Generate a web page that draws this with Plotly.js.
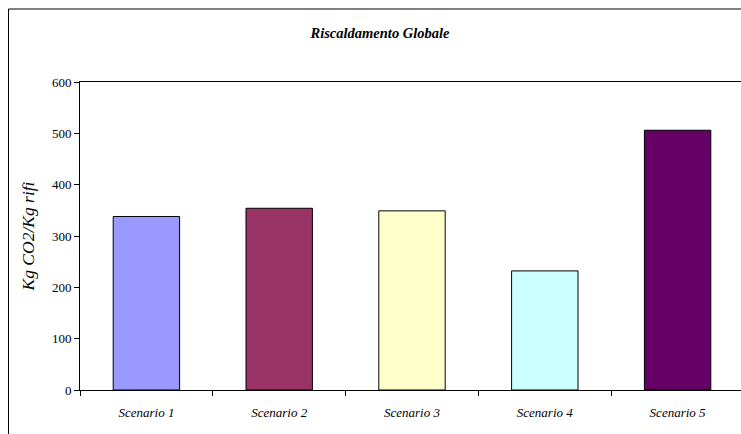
<!DOCTYPE html>
<html>
<head>
<meta charset="utf-8">
<script src="https://cdn.plot.ly/plotly-3.0.1.min.js"></script>
<style>
  html, body { margin: 0; padding: 0; background: #fff; overflow: hidden; }
  #chart { width: 760px; height: 450px; }
</style>
</head>
<body>
<div id="chart"></div>
<script>
// Global warming potential per scenario (kg CO2 per kg of waste)
const scenari = ["Scenario 1", "Scenario 2", "Scenario 3", "Scenario 4", "Scenario 5"];
const valori = [338, 354, 349, 232, 506];
const colori = ["#9999FF", "#993366", "#FFFFCC", "#CCFFFF", "#660066"];
const yTicks = [0, 100, 200, 300, 400, 500, 600];

const serif = "Liberation Serif";

const trace = {
  type: "bar",
  x: scenari,
  y: valori,
  marker: { color: colori, line: { color: "#000", width: 1 } },
  hoverinfo: "x+y"
};

const layout = {
  width: 760,
  height: 450,
  margin: { l: 80, r: 16, t: 82, b: 60 },
  paper_bgcolor: "#fff",
  plot_bgcolor: "#fff",
  showlegend: false,
  bargap: 0.5,
  font: { family: serif, color: "#000", size: 12 },
  title: {
    text: "<b><i>Riscaldamento Globale</i></b>",
    font: { family: serif, size: 14.5, color: "#000" },
    x: 0.5, xref: "container", xanchor: "center",
    y: 1 - 33 / 450, yref: "container", yanchor: "middle"
  },
  xaxis: {
    type: "category",
    showline: true, linecolor: "#000", linewidth: 1, mirror: true,
    ticks: "outside", tickson: "boundaries", ticklen: 5, tickcolor: "#000",
    tickfont: { family: serif, size: 13, style: "italic" },
    ticklabelstandoff: 10,
    showgrid: false, zeroline: false,
    fixedrange: true
  },
  yaxis: {
    range: [0, 600],
    tickvals: yTicks,
    ticktext: yTicks.map(String),
    showline: true, linecolor: "#000", linewidth: 1,
    ticks: "outside", ticklen: 5, tickcolor: "#000",
    tickfont: { family: serif, size: 13 },
    showgrid: false, zeroline: false,
    title: {
      text: "<i>Kg CO2/Kg rifi</i>",
      font: { family: serif, size: 17.5 },
      standoff: 12
    },
    fixedrange: true
  },
  shapes: [{
    type: "rect", xref: "paper", yref: "paper",
    x0: (8.5 - 80) / 664, x1: (752 - 80) / 664,
    y0: (390 - 460) / 308, y1: (390 - 9) / 308,
    line: { color: "#000", width: 1 },
    fillcolor: "rgba(0,0,0,0)",
    layer: "below"
  }]
};

Plotly.newPlot("chart", [trace], layout, { displayModeBar: false, staticPlot: true });
</script>
</body>
</html>
